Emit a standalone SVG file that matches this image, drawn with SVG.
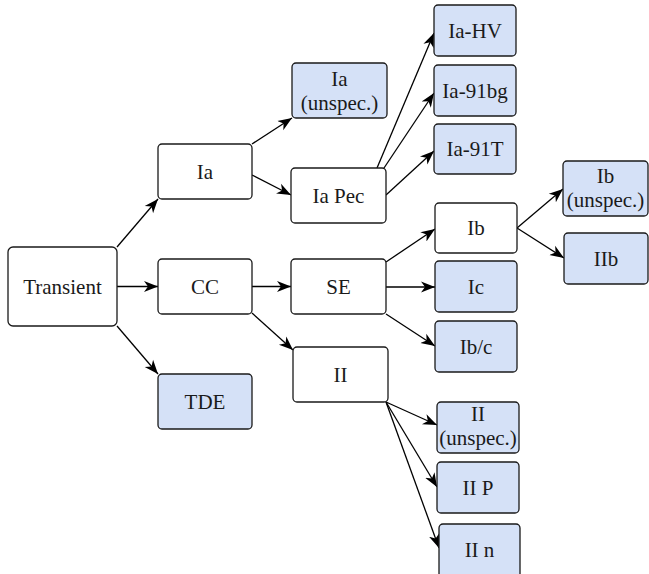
<svg xmlns="http://www.w3.org/2000/svg" width="649" height="574" viewBox="0 0 649 574" font-family="Liberation Serif">
<style>
.n rect{stroke:#1a1a1a;stroke-width:1.3;fill:#ffffff}
.b rect{fill:#d5e1f7}
.t{font-size:21px;fill:#1a1a1a;text-anchor:middle;dominant-baseline:central}
#edges path{stroke:#000;stroke-width:1.3;fill:none;marker-end:url(#ah)}
</style>
<defs>
<marker id="ah" markerUnits="userSpaceOnUse" markerWidth="16" markerHeight="14" viewBox="0 0 16 14" refX="14" refY="7" orient="auto">
<path d="M0,1.5 L14,7 L0,12.5 L4,7 Z" fill="#000"/>
</marker>
</defs>
<rect width="649" height="574" fill="#ffffff"/>
<g id="edges">
<path d="M117,247 L158,199"/>
<path d="M117,286.5 L158,286.5"/>
<path d="M117,326 L158,374"/>
<path d="M252,144 L292,118"/>
<path d="M252,175 L291,195"/>
<path d="M377,168 L434,33"/>
<path d="M384,168 L434,93"/>
<path d="M386,195 L434,151"/>
<path d="M252,286.5 L291,286.5"/>
<path d="M252,313 L293,350"/>
<path d="M386,262 L435,229"/>
<path d="M386,287 L435,287"/>
<path d="M386,314 L435,346"/>
<path d="M517,228 L563,189"/>
<path d="M517,228 L564,258"/>
<path d="M386,402 L437,425"/>
<path d="M386,402 L437,487"/>
<path d="M386,402 L439,548"/>
</g>
<g id="transient" class="n"><rect x="8" y="247" width="109" height="79" rx="5"/><text class="t" style="font-family:'Liberation Serif'" x="62.5" y="286.5">Transient</text></g>
<g id="ia" class="n"><rect x="158" y="144" width="94" height="55" rx="4"/><text class="t" style="font-family:'Liberation Serif'" x="205" y="171.5">Ia</text></g>
<g id="cc" class="n"><rect x="158" y="259" width="94" height="55" rx="4"/><text class="t" style="font-family:'Liberation Serif'" x="205" y="286.5">CC</text></g>
<g id="tde" class="n b"><rect x="158" y="374" width="94" height="55" rx="4"/><text class="t" style="font-family:'Liberation Serif'" x="205" y="401.5">TDE</text></g>
<g id="ia-unspec" class="n b"><rect x="292" y="63" width="95" height="55" rx="4"/><text class="t" style="font-family:'Liberation Serif'" x="339.5" y="79">Ia</text><text class="t" style="font-family:'Liberation Serif'" x="339.5" y="103">(unspec.)</text></g>
<g id="ia-pec" class="n"><rect x="291" y="168" width="95" height="55" rx="4"/><text class="t" style="font-family:'Liberation Serif'" x="338.5" y="195.5">Ia Pec</text></g>
<g id="se" class="n"><rect x="291" y="259" width="95" height="55" rx="4"/><text class="t" style="font-family:'Liberation Serif'" x="338.5" y="286.5">SE</text></g>
<g id="ii" class="n"><rect x="293" y="347" width="95" height="55" rx="4"/><text class="t" style="font-family:'Liberation Serif'" x="340.5" y="374.5">II</text></g>
<g id="ia-hv" class="n b"><rect x="434" y="5" width="82" height="51" rx="4"/><text class="t" style="font-family:'Liberation Serif'" x="475" y="30.5">Ia-HV</text></g>
<g id="ia-91bg" class="n b"><rect x="434" y="65" width="82" height="51" rx="4"/><text class="t" style="font-family:'Liberation Serif'" x="475" y="90.5">Ia-91bg</text></g>
<g id="ia-91t" class="n b"><rect x="434" y="124" width="82" height="50" rx="4"/><text class="t" style="font-family:'Liberation Serif'" x="475" y="149">Ia-91T</text></g>
<g id="ib" class="n"><rect x="435" y="203" width="82" height="50" rx="4"/><text class="t" style="font-family:'Liberation Serif'" x="476" y="228">Ib</text></g>
<g id="ic" class="n b"><rect x="435" y="261" width="82" height="51" rx="4"/><text class="t" style="font-family:'Liberation Serif'" x="476" y="286.5">Ic</text></g>
<g id="ibc" class="n b"><rect x="435" y="321" width="82" height="51" rx="4"/><text class="t" style="font-family:'Liberation Serif'" x="476" y="346.5">Ib/c</text></g>
<g id="ib-unspec" class="n b"><rect x="563" y="161" width="85" height="55" rx="4"/><text class="t" style="font-family:'Liberation Serif'" x="605.5" y="176">Ib</text><text class="t" style="font-family:'Liberation Serif'" x="605.5" y="200">(unspec.)</text></g>
<g id="iib" class="n b"><rect x="564" y="233" width="84" height="51" rx="4"/><text class="t" style="font-family:'Liberation Serif'" x="606" y="258.5">IIb</text></g>
<g id="ii-unspec" class="n b"><rect x="437" y="402" width="82" height="51" rx="4"/><text class="t" style="font-family:'Liberation Serif'" x="478" y="414">II</text><text class="t" style="font-family:'Liberation Serif'" x="478" y="438">(unspec.)</text></g>
<g id="ii-p" class="n b"><rect x="437" y="462" width="82" height="51" rx="4"/><text class="t" style="font-family:'Liberation Serif'" x="478" y="487.5">II P</text></g>
<g id="ii-n" class="n b"><rect x="439" y="524" width="81" height="55" rx="4"/><text class="t" style="font-family:'Liberation Serif'" x="479.5" y="550">II n</text></g>
</svg>
